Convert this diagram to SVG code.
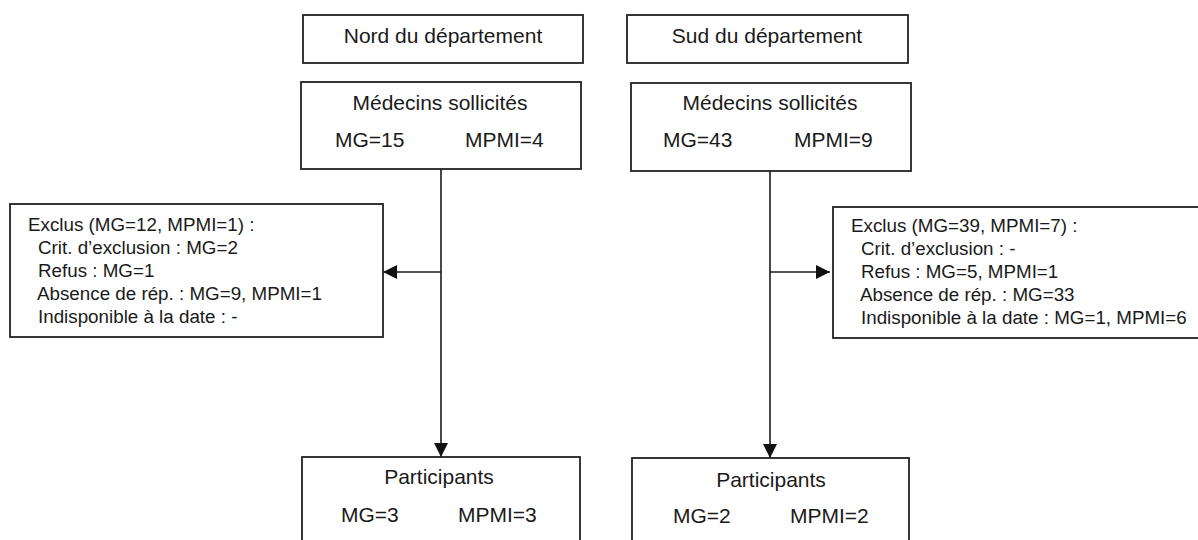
<svg xmlns="http://www.w3.org/2000/svg" width="1198" height="540" viewBox="0 0 1198 540">
<style>
.box{fill:#fff;stroke:#222;stroke-width:1.8}
.t{font-family:"Liberation Sans",Arial,sans-serif;font-size:21px;fill:#1a1a1a}
.s{font-family:"Liberation Sans",Arial,sans-serif;font-size:18.8px;fill:#1a1a1a}
.c{text-anchor:middle}
.ln{stroke:#1a1a1a;stroke-width:1.6;fill:none}
</style>
<defs>
<marker id="ah" viewBox="0 0 14 14" refX="14" refY="7" markerWidth="14" markerHeight="14" markerUnits="userSpaceOnUse" orient="auto">
<path d="M0,0 L14,7 L0,14 Z" fill="#111"/>
</marker>
</defs>
<rect width="1198" height="540" fill="#fff"/>
<g id="connectors">
<line class="ln" x1="441" y1="169" x2="441" y2="457" marker-end="url(#ah)"/>
<line class="ln" x1="441" y1="272" x2="383" y2="272" marker-end="url(#ah)"/>
<line class="ln" x1="770" y1="171" x2="770" y2="458" marker-end="url(#ah)"/>
<line class="ln" x1="770" y1="272" x2="830" y2="272" marker-end="url(#ah)"/>
</g>
<g id="nord">
<rect class="box" x="303" y="15" width="280" height="48"/>
<text class="t c" x="443" y="43">Nord du département</text>
</g>
<g id="sud">
<rect class="box" x="627" y="15" width="281" height="48"/>
<text class="t c" x="767" y="43">Sud du département</text>
</g>
<g id="medecins-nord">
<rect class="box" x="301" y="82" width="280" height="87"/>
<text class="t c" x="440" y="110">Médecins sollicités</text>
<text class="t" x="335" y="147">MG=15</text>
<text class="t" x="465" y="147">MPMI=4</text>
</g>
<g id="medecins-sud">
<rect class="box" x="631" y="83" width="280" height="88"/>
<text class="t c" x="770" y="110">Médecins sollicités</text>
<text class="t" x="663" y="147">MG=43</text>
<text class="t" x="794" y="147">MPMI=9</text>
</g>
<g id="exclus-nord">
<rect class="box" x="10" y="204" width="373" height="133"/>
<text class="s" x="28" y="231">Exclus (MG=12, MPMI=1) :</text>
<text class="s" x="38" y="254">Crit. d’exclusion : MG=2</text>
<text class="s" x="38" y="277">Refus : MG=1</text>
<text class="s" x="37" y="300">Absence de rép. : MG=9, MPMI=1</text>
<text class="s" x="38" y="323">Indisponible à la date : -</text>
</g>
<g id="exclus-sud">
<rect class="box" x="833" y="207" width="370" height="131"/>
<text class="s" x="851" y="232">Exclus (MG=39, MPMI=7) :</text>
<text class="s" x="861" y="255">Crit. d’exclusion : -</text>
<text class="s" x="861" y="278">Refus : MG=5, MPMI=1</text>
<text class="s" x="860" y="301">Absence de rép. : MG=33</text>
<text class="s" x="861" y="324">Indisponible à la date : MG=1, MPMI=6</text>
</g>
<g id="participants-nord">
<rect class="box" x="302" y="457" width="278" height="100"/>
<text class="t c" x="439" y="484">Participants</text>
<text class="t" x="341" y="522">MG=3</text>
<text class="t" x="458" y="522">MPMI=3</text>
</g>
<g id="participants-sud">
<rect class="box" x="632" y="458" width="277" height="100"/>
<text class="t c" x="771" y="487">Participants</text>
<text class="t" x="673" y="523">MG=2</text>
<text class="t" x="790" y="523">MPMI=2</text>
</g>
</svg>
